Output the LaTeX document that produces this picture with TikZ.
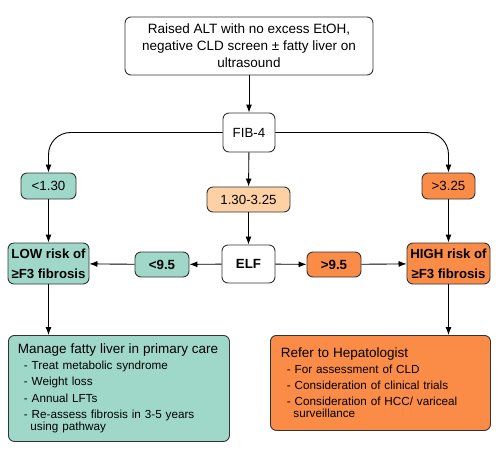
\documentclass[tikz,border=0pt]{standalone}
\usepackage{fontspec}
\setmainfont{Liberation Sans}
\usetikzlibrary{arrows.meta}
\definecolor{LowTeal}{HTML}{9FD8C8}
\definecolor{MidPeach}{HTML}{FDD1A3}
\definecolor{HighOrange}{HTML}{FB8C48}
\definecolor{EdgeGrey}{HTML}{333333}
\begin{document}
\begin{tikzpicture}[x=1pt,y=-1pt,
  box/.style={draw=EdgeGrey, line width=0.9pt, rounded corners=6pt, inner sep=0pt, align=center, font=\fontsize{13.3}{17}\selectfont},
  cut/.style={box, minimum width=55pt, minimum height=26pt},
  risk/.style={box, minimum height=41pt, font=\bfseries\fontsize{13.2}{20}\selectfont},
  plan/.style={box, anchor=north west, align=left, inner xsep=9.5pt, font=\fontsize{11.7}{12}\selectfont},
  arrow/.style={line width=0.9pt, -{Latex[length=8pt,width=6pt]}}]
\useasboundingbox (0,0) rectangle (503,451);
\node[box, minimum width=248pt, minimum height=58pt, font=\fontsize{13.5}{17}\selectfont] (start) at (249,46) {Raised ALT with no excess EtOH,\\negative CLD screen \textpm{} fatty liver on\\ultrasound};
\node[box, minimum width=52pt, minimum height=39pt, fill=white] (fib) at (249,132.5) {FIB-4};
\node[cut, fill=LowTeal] (fiblo) at (48.5,186) {<1.30};
\node[cut, fill=MidPeach, minimum width=83pt, minimum height=25pt] (fibmid) at (248.5,199.5) {1.30-3.25};
\node[cut, fill=HighOrange, minimum width=53pt] (fibhi) at (448.5,186) {>3.25};
\node[box, minimum width=53pt, minimum height=38pt, font=\bfseries\fontsize{13.3}{16}\selectfont] (elf) at (248.5,264) {ELF};
\node[cut, fill=LowTeal, minimum width=54pt, minimum height=25pt, font=\bfseries\fontsize{13.3}{16}\selectfont] (elflo) at (162,264.5) {<9.5};
\node[cut, fill=HighOrange, minimum width=54pt, minimum height=25pt, font=\bfseries\fontsize{13.3}{16}\selectfont] (elfhi) at (334,264.5) {>9.5};
\node[risk, fill=LowTeal, minimum width=81pt] (low) at (48.5,263.5) {LOW risk of\\≥F3 fibrosis};
\node[risk, fill=HighOrange, minimum width=83pt] (high) at (448.5,263.5) {HIGH risk of\\≥F3 fibrosis};
\node[plan, fill=LowTeal, text width=202pt, minimum height=106pt] (manage) at (8,335) {{\fontsize{13.5}{14}\selectfont Manage fatty liver in primary care}\\[3.7pt]
  \hspace*{6pt}- Treat metabolic syndrome\\[4.3pt]
  \hspace*{6pt}- Weight loss\\[4.3pt]
  \hspace*{6pt}- Annual LFTs\\[4.3pt]
  \hspace*{6pt}- Re-assess fibrosis in 3-5 years\\
  \hspace*{12.5pt}using pathway};
\node[plan, fill=HighOrange, text width=199pt, inner xsep=10.5pt, minimum height=95pt] (refer) at (270,335) {{\fontsize{13.5}{14}\selectfont Refer to Hepatologist}\\[3.7pt]
  \hspace*{6pt}- For assessment of CLD\\[4.3pt]
  \hspace*{6pt}- Consideration of clinical trials\\[4.3pt]
  \hspace*{6pt}- Consideration of HCC/ variceal\\
  \hspace*{12.5pt}surveillance};
% FIB-4 branches
\draw[arrow] (start) -- (fib);
\draw[arrow, rounded corners=22pt] (fib) -| (fiblo);
\draw[arrow, rounded corners=22pt] (fib) -| (fibhi);
\draw[arrow] (fib) -- (fibmid);
\draw[arrow] (fibmid) -- (elf);
\draw[arrow] (fiblo) -- (low);
\draw[arrow] (fibhi) -- (high);
% ELF branches
\draw[arrow] (elf) -- (elflo);
\draw[arrow] (elflo) -- (low);
\draw[arrow] (elf) -- (elfhi);
\draw[arrow] (elfhi) -- (high);
\draw[arrow] (low) -- (low |- manage.north);
\draw[arrow] (high) -- (high |- refer.north);
\end{tikzpicture}
\end{document}
